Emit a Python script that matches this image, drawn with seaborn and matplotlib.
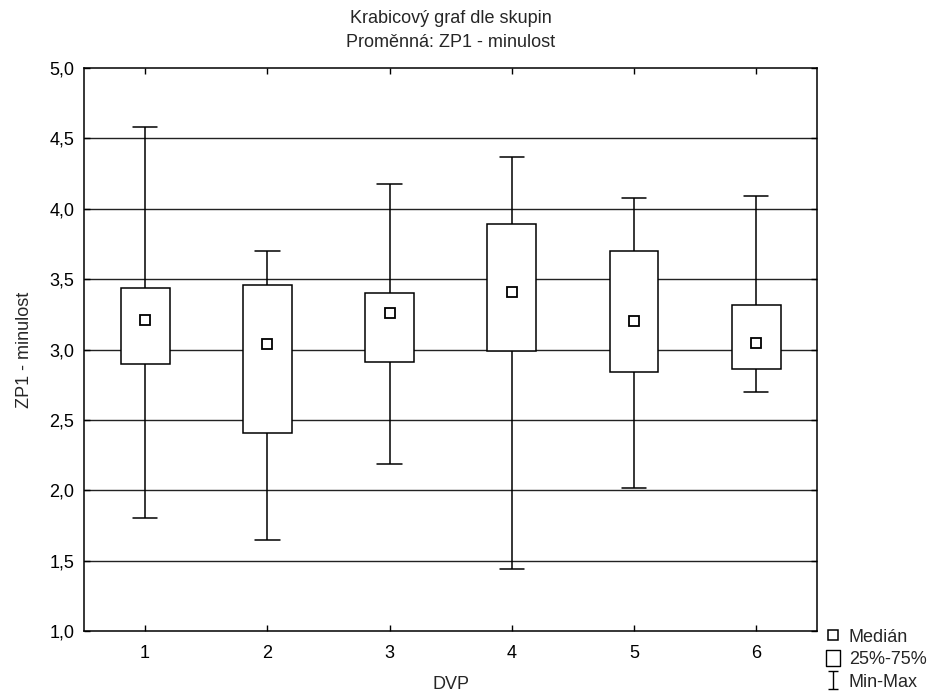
"""Box plot of ZP1 - minulost by DVP group (Statistica style)."""

import matplotlib

matplotlib.use("Agg")
import matplotlib.pyplot as plt
import pandas as pd
import seaborn as sns
from matplotlib.lines import Line2D
from matplotlib.path import Path
from matplotlib.ticker import FuncFormatter, MultipleLocator

groups = ["1", "2", "3", "4", "5", "6"]
mins = [1.80, 1.65, 2.19, 1.44, 2.02, 2.70]
q1s = [2.90, 2.41, 2.91, 2.99, 2.84, 2.86]
medians = [3.21, 3.04, 3.26, 3.41, 3.20, 3.05]
q3s = [3.44, 3.46, 3.40, 3.89, 3.70, 3.32]
maxs = [4.58, 3.70, 4.18, 4.37, 4.08, 4.09]

# five summary values per group -> percentiles 0/25/50/75/100 hit them exactly
rows = []
for g, a, b, c, d, e in zip(groups, mins, q1s, medians, q3s, maxs):
    for v in (a, b, c, d, e):
        rows.append({"DVP": g, "value": v})
data = pd.DataFrame(rows)

FS = 13

sns.set_style("ticks")
plt.rcParams["font.family"] = ["Liberation Sans", "DejaVu Sans"]
plt.rcParams["font.size"] = FS

fig = plt.figure(figsize=(9.33, 6.95), dpi=100)
ax = fig.add_axes([0.090, 0.092, 0.786, 0.810])

for y in [1.5, 2.0, 2.5, 3.0, 3.5, 4.0, 4.5]:
    ax.axhline(y, color="#222222", linewidth=1.0, zorder=0)

sns.boxplot(
    data=data, x="DVP", y="value", ax=ax,
    whis=(0, 100), width=0.4, color="white", linecolor="black",
    linewidth=1.1, capwidths=0.2,
    medianprops={"visible": False},
    boxprops={"zorder": 2}, whiskerprops={"zorder": 1.5},
)
sns.pointplot(
    data=data, x="DVP", y="value", ax=ax,
    estimator="median", errorbar=None, linestyle="none",
    marker="s", markersize=7, markerfacecolor="white",
    markeredgecolor="black", markeredgewidth=1.3, color="black",
)
for c in ax.collections:
    c.set_zorder(3)
for ln in ax.lines[-6:]:
    ln.set_zorder(3)

ax.set_ylim(1.0, 5.0)
ax.set_xlim(-0.5, 5.5)
ax.yaxis.set_major_locator(MultipleLocator(0.5))
ax.yaxis.set_major_formatter(FuncFormatter(lambda v, p: f"{v:.1f}".replace(".", ",")))
ax.tick_params(direction="in", top=True, right=True, length=4, width=1,
               colors="black", labelsize=FS)
ax.tick_params(axis="y", pad=7)
ax.tick_params(axis="x", pad=10)
for s in ax.spines.values():
    s.set_visible(True)
    s.set_color("black")
    s.set_linewidth(1.1)

ax.set_xlabel("DVP", fontsize=FS, labelpad=10)
ax.set_ylabel("ZP1 - minulost", fontsize=FS, labelpad=12)
ax.set_title("Krabicový graf dle skupin\nProměnná: ZP1 - minulost",
             fontsize=FS, pad=15, linespacing=1.55)

ibeam = Path([(-0.5, -1), (0.5, -1), (0, -1), (0, 1), (-0.5, 1), (0.5, 1)],
             [Path.MOVETO, Path.LINETO, Path.MOVETO, Path.LINETO,
              Path.MOVETO, Path.LINETO])
tall_rect = Path([(-0.8, -1), (0.8, -1), (0.8, 1), (-0.8, 1), (-0.8, -1)],
                 [Path.MOVETO, Path.LINETO, Path.LINETO, Path.LINETO,
                  Path.CLOSEPOLY])
handles = [
    Line2D([], [], linestyle="none", marker="s", markersize=6.5,
           markerfacecolor="white", markeredgecolor="black", markeredgewidth=1.1),
    Line2D([], [], linestyle="none", marker=tall_rect, markersize=12,
           markerfacecolor="white", markeredgecolor="black", markeredgewidth=1),
    Line2D([], [], linestyle="none", marker=ibeam, markersize=13,
           markeredgecolor="black", markeredgewidth=1),
]
fig.legend(handles, ["Medián", "25%-75%", "Min-Max"],
           loc="lower left", bbox_to_anchor=(0.877, -0.004), frameon=False,
           handlelength=0.8, handletextpad=0.5, labelspacing=0.3,
           fontsize=FS, borderaxespad=0)

fig.savefig("out.png", dpi=100)
